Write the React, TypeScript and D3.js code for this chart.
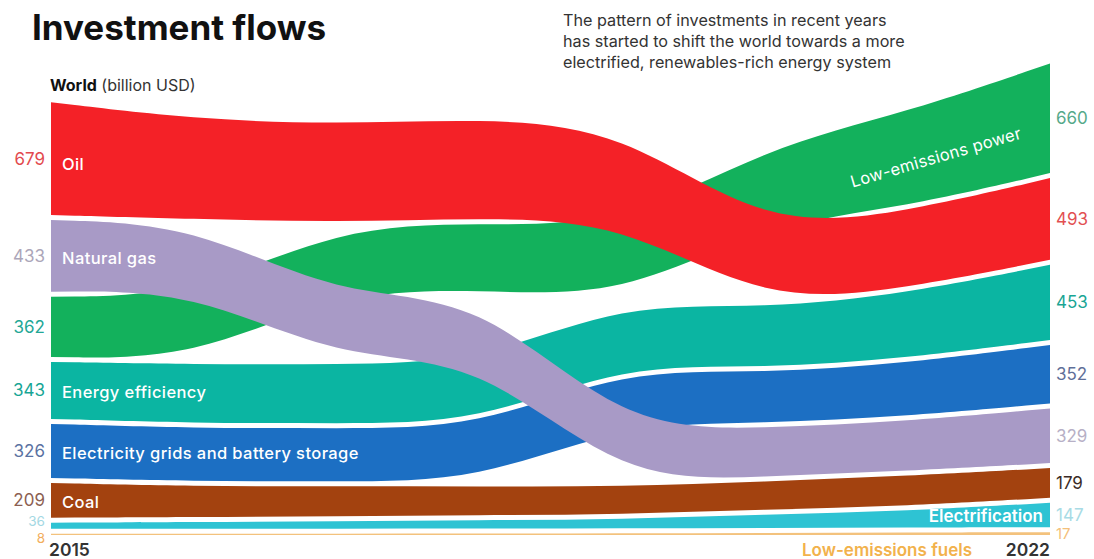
import React, { useEffect } from 'react';
import * as d3 from 'd3';

// ---- data (billion USD) ----
const years = [2015, 2016, 2017, 2018, 2019, 2020, 2021, 2022];
const seriesNames = [
  'Oil',
  'Natural gas',
  'Low-emissions power',
  'Energy efficiency',
  'Electricity grids and battery storage',
  'Coal',
  'Electrification',
  'Low-emissions fuels',
];
const oilValues = [679, 600, 590, 600, 560, 450, 460, 493];
const gasValues = [433, 400, 375, 380, 320, 290, 300, 329];
const lowEmissionsPowerValues = [362, 385, 390, 400, 430, 460, 570, 660];
const efficiencyValues = [343, 355, 355, 365, 370, 360, 390, 453];
const gridsValues = [326, 320, 320, 320, 330, 300, 320, 352];
const coalValues = [209, 185, 180, 175, 165, 170, 180, 179];
const electrificationValues = [36, 40, 45, 50, 55, 80, 100, 147];
const fuelsValues = [8, 8, 8, 8, 10, 12, 15, 17];

const allValues = [
  oilValues, gasValues, lowEmissionsPowerValues, efficiencyValues,
  gridsValues, coalValues, electrificationValues, fuelsValues,
];
const fills = ['#f42127', '#a89ac6', '#13b15c', '#0bb5a2', '#1c6fc3', '#a3420f', '#2ec3d3', '#f3c27d'];
const startLabelColors = ['#e34a4e', '#aca6b9', '#23a796', '#17a595', '#5a72a2', '#8c5f52', '#a3d8e3', '#f2ae5c'];
const endLabelColors = ['#e24f52', '#b7b0c6', '#55a98a', '#19a594', '#5f6f99', '#3b2b26', '#a8dbe5', '#f4c07a'];
const insideLabelSeries = [0, 1, 3, 4, 5];
const drawOrder = [7, 6, 5, 4, 3, 2, 0, 1];

const W = 1094;
const H = 559;
const FONT = 'Inter, "Open Sans", sans-serif';

function spread(items: { y: number }[], minGap: number) {
  const s = [...items].sort((a, b) => a.y - b.y);
  for (let it = 0; it < 30; it++) {
    for (let i = 1; i < s.length; i++) {
      const d = s[i].y - s[i - 1].y;
      if (d < minGap) {
        const push = (minGap - d) / 2;
        s[i].y += push;
        s[i - 1].y -= push;
      }
    }
  }
}

export default function App() {
  useEffect(() => {
    document.body.style.margin = '0';
  }, []);

  const x = d3.scaleLinear().domain([2015, 2022]).range([51, 1050]);
  const h = d3.scaleLinear().domain([0, 1000]).range([0, 166]);
  const baseline = 535;
  const gap = 5;

  // rank-based stacking per year (largest on top)
  const layout = allValues.map(() => years.map(() => ({ top: 0, bottom: 0 })));
  years.forEach((_, j) => {
    const order = d3.range(allValues.length).sort((a, b) => allValues[a][j] - allValues[b][j]);
    let cur = baseline;
    order.forEach((i) => {
      const t = h(allValues[i][j]);
      layout[i][j] = { bottom: cur, top: cur - t };
      cur = cur - t - gap;
    });
  });

  const area = d3
    .area<{ top: number; bottom: number }>()
    .x((_, j) => x(years[j]))
    .y0((d) => d.bottom)
    .y1((d) => d.top)
    .curve(d3.curveBasis);

  const last = years.length - 1;
  const startLabels = allValues.map((v, i) => ({
    i, text: String(v[0]), y: (layout[i][0].top + layout[i][0].bottom) / 2,
    small: layout[i][0].bottom - layout[i][0].top < 10,
  }));
  spread(startLabels, 16.5);
  const endLabels = allValues.map((v, i) => ({
    i, text: String(v[last]), y: (layout[i][last].top + layout[i][last].bottom) / 2,
    small: layout[i][last].bottom - layout[i][last].top < 10,
  }));
  spread(endLabels, 17);

  // rotated label for low-emissions power along its band near the end
  const lep = layout[2];
  const c21 = (lep[last - 1].top + lep[last - 1].bottom) / 2;
  const c22 = (lep[last].top + lep[last].bottom) / 2;
  const lx = x(2021.2);
  const ly = c21 + (c22 - c21) * 0.2 + 6;
  const angle = (Math.atan2(c22 - c21, x(2022) - x(2021)) * 180) / Math.PI;

  const elec = layout[6][last];

  return (
    <svg width={W} height={H} style={{ display: 'block', position: 'absolute', left: 0, top: 0, background: '#fff' }} fontFamily={FONT}>
      <text x={32} y={40} fontSize={35} fontWeight={700} fill="#111">Investment flows</text>
      <text x={50} y={91} fontSize={16} fill="#333">
        <tspan fontWeight={700} fill="#111">World</tspan> (billion USD)
      </text>
      <g fontSize={16.2} fill="#333">
        <text x={563} y={26}>The pattern of investments in recent years</text>
        <text x={563} y={47}>has started to shift the world towards a more</text>
        <text x={563} y={68}>electrified, renewables-rich energy system</text>
      </g>

      {drawOrder.map((i) => (
        <path key={i} d={area(layout[i]) || ''} fill={fills[i]} />
      ))}

      {insideLabelSeries.map((i) => (
        <text
          key={i}
          x={62}
          y={(layout[i][0].top + layout[i][0].bottom) / 2 + (i === 0 ? 6 : 2)}
          dy="0.35em"
          fontSize={16.5}
          fontWeight={500}
          letterSpacing={0.4}
          fill="#fff"
        >
          {seriesNames[i]}
        </text>
      ))}

      <text
        x={lx}
        y={ly}
        dy="0.35em"
        textAnchor="middle"
        fontSize={16.5}
        letterSpacing={0.3}
        fill="#fff"
        transform={`rotate(${angle} ${lx} ${ly})`}
      >
        {seriesNames[2]}
      </text>
      <text x={1043} y={(elec.top + elec.bottom) / 2 + 1} dy="0.35em" textAnchor="end" fontSize={17} fontWeight={600} fill="#fff">
        {seriesNames[6]}
      </text>

      {startLabels.map((l) => (
        <text key={l.i} x={45} y={l.y} dy="0.35em" textAnchor="end" fontSize={l.small ? 13.5 : 17} fill={startLabelColors[l.i]}>
          {l.text}
        </text>
      ))}
      {endLabels.map((l) => (
        <text key={l.i} x={1056} y={l.y} dy="0.35em" fontSize={l.small ? 15 : 17} fill={endLabelColors[l.i]}>
          {l.text}
        </text>
      ))}

      <text x={49} y={556} fontSize={17.5} fontWeight={600} fill="#333">{years[0]}</text>
      <text x={1050} y={556} textAnchor="end" fontSize={17.5} fontWeight={600} fill="#333">{years[last]}</text>
      <text x={972} y={556} textAnchor="end" fontSize={17} fontWeight={600} fill="#f2b24c">{seriesNames[7]}</text>
    </svg>
  );
}
